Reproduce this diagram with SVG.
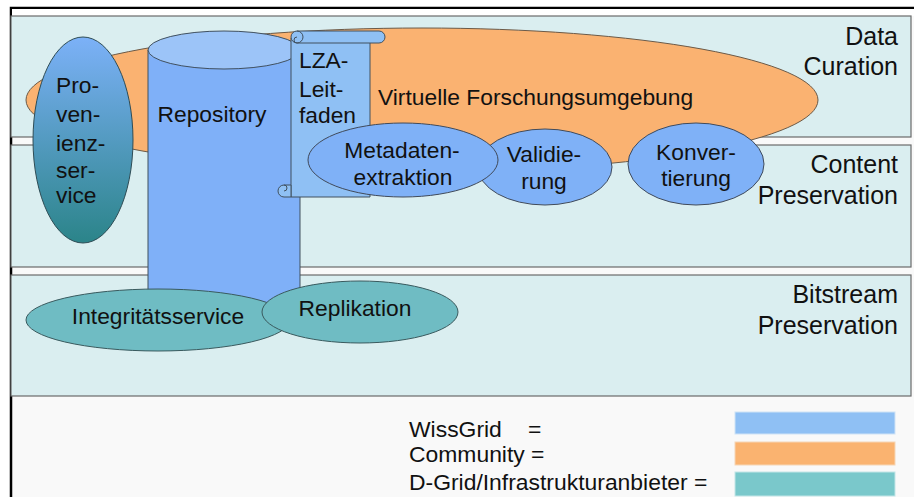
<svg xmlns="http://www.w3.org/2000/svg" width="914" height="497" viewBox="0 0 914 497">
<defs>
<linearGradient id="provGrad" x1="0" y1="0" x2="0" y2="1">
<stop offset="0" stop-color="#7cb1f8"/>
<stop offset="1" stop-color="#2b8489"/>
</linearGradient>
<style>
.band{fill:#daeef0;stroke:#6a6a6a;stroke-width:1.2}
.lbl{font-family:"Liberation Sans",Arial,sans-serif;font-size:25px;fill:#111;text-anchor:end}
.t{font-family:"Liberation Sans",Arial,sans-serif;font-size:22.8px;fill:#111}
.c{text-anchor:middle}
.blue{fill:#7fb1f7;stroke:#404a5a;stroke-width:1}
.teal{fill:#6fbcc3;stroke:#3a5a5e;stroke-width:1}
.leg{font-family:"Liberation Sans",Arial,sans-serif;font-size:22.9px;fill:#111}
</style>
</defs>
<rect x="0" y="0" width="914" height="497" fill="#ffffff"/>
<rect x="11" y="8" width="910" height="500" fill="#f9f9f9" stroke="#000" stroke-width="2.5"/>
<rect x="12" y="9" width="902" height="7" fill="#ffffff"/>
<g id="bands">
<rect class="band" x="11" y="16" width="900" height="121"/>
<rect class="band" x="11" y="145" width="900" height="122"/>
<rect class="band" x="11" y="275" width="900" height="121"/>
<text class="lbl" x="898" y="45">Data</text>
<text class="lbl" x="898" y="75">Curation</text>
<text class="lbl" x="898" y="173">Content</text>
<text class="lbl" x="898" y="204">Preservation</text>
<text class="lbl" x="898" y="303">Bitstream</text>
<text class="lbl" x="898" y="334">Preservation</text>
</g>
<g id="connectors"></g>
<g id="vfu">
<ellipse cx="422" cy="100" rx="396" ry="72" fill="#fab271" stroke="#6b5a48" stroke-width="1"/>
<text class="t" x="378" y="105">Virtuelle Forschungsumgebung</text>
</g>
<g id="provenienz">
<ellipse cx="83" cy="140" rx="50" ry="103" fill="url(#provGrad)" stroke="#2e4c55" stroke-width="1"/>
<text class="t" x="56" y="93">Pro-</text>
<text class="t" x="56" y="122">ven-</text>
<text class="t" x="56" y="151">ienz-</text>
<text class="t" x="56" y="178">ser-</text>
<text class="t" x="56" y="203">vice</text>
</g>
<g id="repository">
<path d="M148 50 V300 A76 19 0 0 0 300 300 V50 Z" fill="#7fb0f8" stroke="#40505f" stroke-width="1"/>
<ellipse cx="224" cy="50" rx="76" ry="19" fill="#9cc4f8" stroke="#40505f" stroke-width="1"/>
<text class="t c" x="212" y="122">Repository</text>
</g>
<g id="lza">
<path d="M291 38 H370 V197 H291 Z" fill="#8fc0f4" stroke="#40505f" stroke-width="1"/>
<path d="M297 31 H379 A6 6 0 0 1 379 43 H297 A6 6 0 0 1 297 31 Z" fill="#8fc0f4" stroke="#40505f" stroke-width="1"/>
<path d="M297 31 A6 6 0 0 1 297 43 A3 3 0 0 1 297 37" fill="none" stroke="#40505f" stroke-width="1"/>
<path d="M284 185 H291 V197 H284 A6 6 0 0 1 284 185 Z" fill="#8fc0f4" stroke="#40505f" stroke-width="1"/>
<path d="M284 185 A3 3 0 0 1 284 191" fill="none" stroke="#40505f" stroke-width="1"/>
<text class="t" x="299" y="68">LZA-</text>
<text class="t" x="299" y="97">Leit-</text>
<text class="t" x="299" y="123">faden</text>
</g>
<g id="validierung">
<ellipse class="blue" cx="545" cy="167" rx="67" ry="38"/>
<text class="t c" x="544" y="162">Validie-</text>
<text class="t c" x="544" y="189">rung</text>
</g>
<g id="metadaten">
<ellipse class="blue" cx="403" cy="160" rx="95" ry="37"/>
<text class="t c" x="402" y="158">Metadaten-</text>
<text class="t c" x="403" y="185">extraktion</text>
</g>
<g id="konvertierung">
<ellipse class="blue" cx="696" cy="164" rx="68" ry="41"/>
<text class="t c" x="696" y="160">Konver-</text>
<text class="t c" x="696" y="186">tierung</text>
</g>
<g id="integritaet">
<ellipse class="teal" cx="158" cy="320" rx="132" ry="31"/>
<text class="t c" x="158" y="324">Integritätsservice</text>
</g>
<g id="replikation">
<ellipse class="teal" cx="360" cy="312" rx="98" ry="31"/>
<text class="t c" x="355" y="316">Replikation</text>
</g>
<g id="legend">
<text class="leg" x="409" y="437">WissGrid<tspan x="528">=</tspan></text>
<text class="leg" x="409" y="462">Community =</text>
<text class="leg" x="409" y="490">D-Grid/Infrastrukturanbieter =</text>
<rect x="735" y="412" width="160" height="22" fill="#8fc0f4" stroke="#cfe3f6" stroke-width="1"/>
<rect x="735" y="442" width="160" height="23" fill="#fab370" stroke="#f6d6b6" stroke-width="1"/>
<rect x="735" y="472" width="160" height="24" fill="#7ac8cb" stroke="#c3e6e7" stroke-width="1"/>
</g>
</svg>
